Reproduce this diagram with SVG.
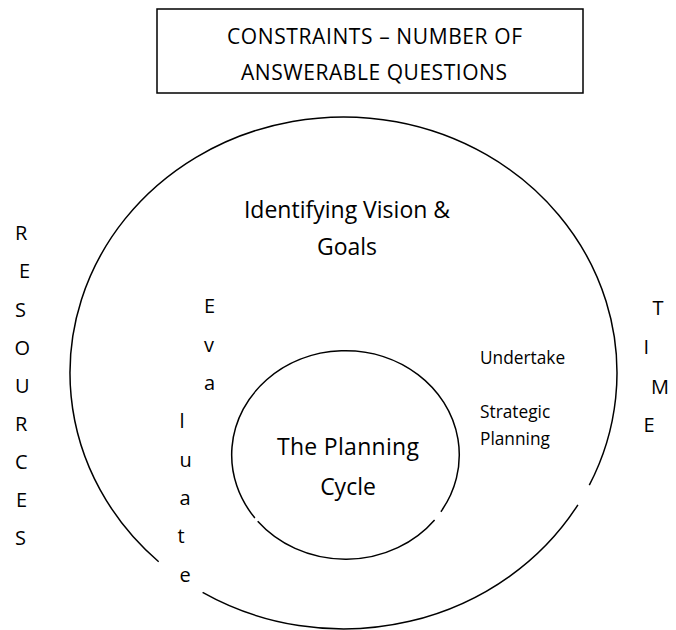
<svg xmlns="http://www.w3.org/2000/svg" width="676" height="630" viewBox="0 0 676 630">
  <style>
    text { font-family: "Open Sans", "Liberation Sans", sans-serif; fill: #000; }
    .line { fill: none; stroke: #000; stroke-width: 1.5; }
    .box { fill: #fff; stroke: #000; stroke-width: 1.5; }
    .title { font-size: 21px; text-anchor: middle; }
    .big { font-size: 23px; text-anchor: middle; }
    .side { font-size: 20px; }
    .small { font-size: 17.3px; }
  </style>
  <rect width="676" height="630" fill="#fff"/>

  <g id="constraints">
    <rect class="box" x="157" y="9" width="426" height="84"/>
    <text class="title" x="374.5" y="43.5" textLength="295">CONSTRAINTS – NUMBER OF</text>
    <text class="title" x="374" y="80" textLength="266">ANSWERABLE QUESTIONS</text>
  </g>

  <g id="connectors">
    <path id="outer-ring-top" class="line" d="M 158.7,561.7 A 273.5 256 0 1 1 589.3,485.2"/>
    <path id="outer-ring-bottom" class="line" d="M 577.9,504.8 A 273.5 256 0 0 1 202.6,592.4"/>
    <path id="inner-ring-top" class="line" d="M 254.9,518.0 A 113.8 104.2 0 1 1 440.9,511.7"/>
    <path id="inner-ring-bottom" class="line" d="M 434.6,519.9 A 113.8 104.2 0 0 1 257.7,521.3"/>
  </g>

  <g id="vision-goals">
    <text class="big" x="347" y="218">Identifying Vision &amp;</text>
    <text class="big" x="347" y="255">Goals</text>
  </g>

  <g id="planning-cycle">
    <text class="big" x="348" y="455" textLength="142">The Planning</text>
    <text class="big" x="348" y="495">Cycle</text>
  </g>

  <g id="strategic-planning">
    <text class="small" x="480" y="363.5">Undertake</text>
    <text class="small" x="480" y="417.5">Strategic</text>
    <text class="small" x="480" y="445">Planning</text>
  </g>

  <g id="evaluate">
    <text class="side" x="204" y="313">E</text>
    <text class="side" x="204" y="351.5">v</text>
    <text class="side" x="204" y="390">a</text>
    <text class="side" x="179.5" y="428">l</text>
    <text class="side" x="179.5" y="466.5">u</text>
    <text class="side" x="179.5" y="505">a</text>
    <text class="side" x="177.5" y="543">t</text>
    <text class="side" x="179.5" y="581.5">e</text>
  </g>

  <g id="resources">
    <text class="side" x="15" y="240">R</text>
    <text class="side" x="19" y="278">E</text>
    <text class="side" x="15" y="316.5">S</text>
    <text class="side" x="14.5" y="355">O</text>
    <text class="side" x="15" y="393">U</text>
    <text class="side" x="15" y="431">R</text>
    <text class="side" x="15" y="469">C</text>
    <text class="side" x="16" y="507">E</text>
    <text class="side" x="15" y="545">S</text>
  </g>

  <g id="time">
    <text class="side" x="652.5" y="314.5">T</text>
    <text class="side" x="643.5" y="354">I</text>
    <text class="side" x="651" y="393.5">M</text>
    <text class="side" x="643.5" y="432">E</text>
  </g>
</svg>
